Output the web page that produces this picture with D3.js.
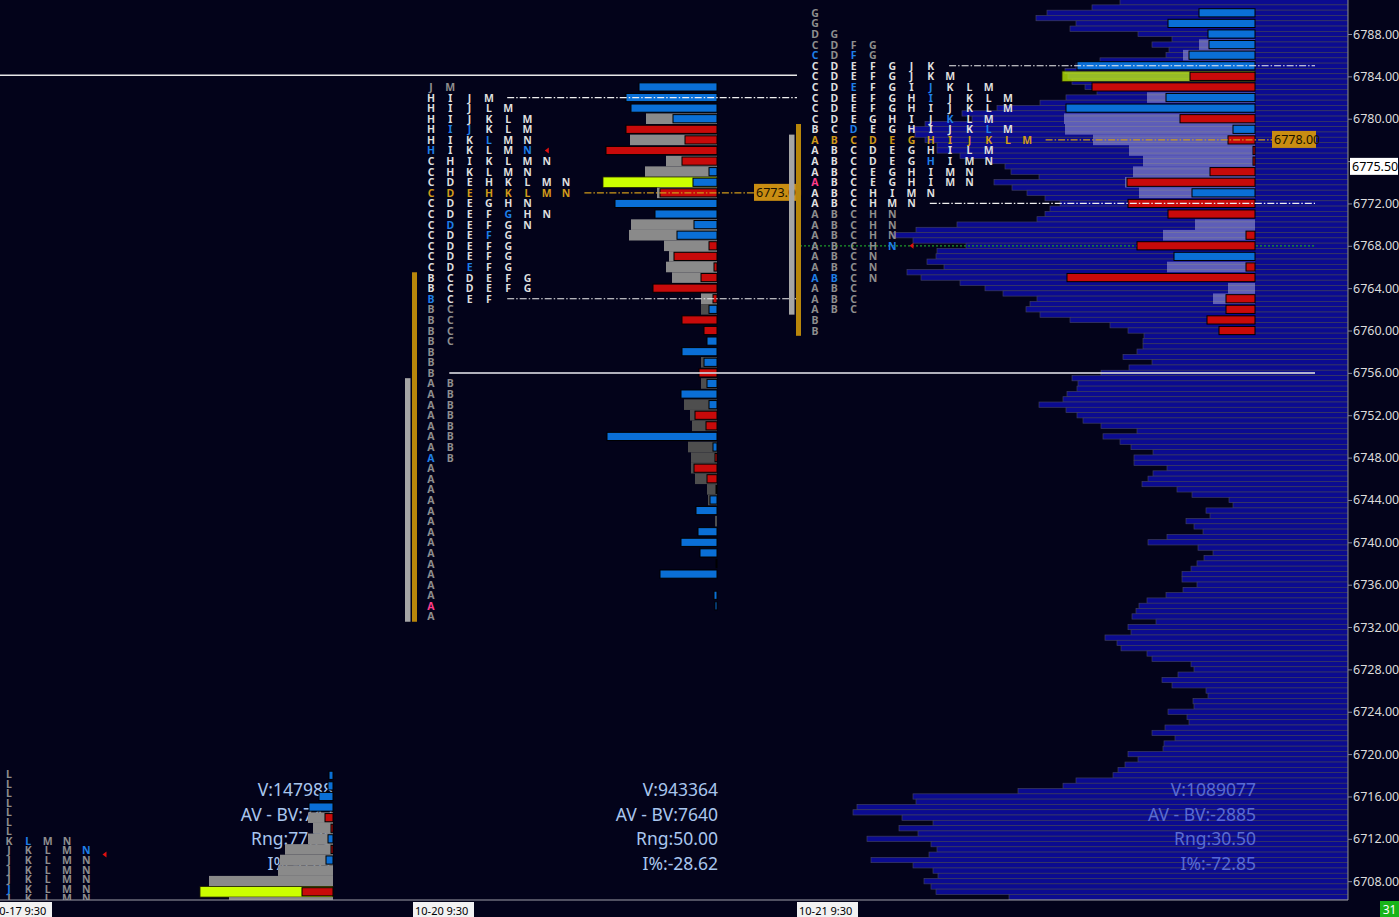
<!DOCTYPE html>
<html>
<head>
<meta charset="utf-8">
<script src="https://d3js.org/d3.v7.min.js"></script>
<style>
  body { margin: 0; background: #03031a; }
  text { font-family: "Noto Sans", "Open Sans", sans-serif; }
</style>
</head>
<body>
<div id="chart"></div>
<script>
// ---- data ----------------------------------------------------------------
const yTicks = [6788, 6784, 6780, 6776, 6772, 6768, 6764, 6760, 6756, 6752, 6748,
                6744, 6740, 6736, 6732, 6728, 6724, 6720, 6716, 6712, 6708];
const yTickLabels = yTicks.map(d => d.toFixed(2)).map((s, i) => yTicks[i] === 6776 ? "" : s);
const lastPrice = 6775.5;
const dayLabels = ["10-17  9:30", "10-20  9:30", "10-21  9:30"];

// TPO letters, one string per price row (top row first)
const d1Top = 6718.1, d1Step = 0.9;
const d1Tpo = ["L", "L", "L", "L", "L", "L", "L", "KLMN", "JKLMN", "JKLMN", "JKLMN", "JKLMN", "JKLMN", "JKLMN"];
const d1Blue = [[7, 1], [8, 4], [12, 0]];

const d2Top = 6783;
const d2Tpo = ["JM", "HIJM", "HIJLM", "HIJKLM", "HIJKLM", "HIKLMN", "HIKLMN", "CHIKLMN", "CHKLMN",
  "CDEHKLMN", "CDEHKLMN", "CDEGHN", "CDEFGHN", "CDEFGN", "CDEFG", "CDEFG", "CDEFG", "CDEFG",
  "BCDEFG", "BCDEFG", "BCEF", "BC", "BC", "BC", "BC", "B", "B", "B",
  "AB", "AB", "AB", "AB", "AB", "AB", "AB", "AB",
  "A", "A", "A", "A", "A", "A", "A", "A", "A", "A", "A", "A", "A", "A", "A"];
const d2Blue = [[6779, 1], [6779, 2], [6778, 3], [6777, 0], [6777, 5], [6771, 4], [6770, 1],
  [6769, 3], [6766, 2], [6763, 0], [6748, 0]];
const d2Pink = [[6734, 0]];

const d3Top = 6790;
const d3Tpo = ["G", "G", "DG", "CDFG", "CDFG", "CDEFGJK", "CDEFGJKM", "CDEFGIJKLM", "CDEFGHIJKLM",
  "CDEFGHIJKLM", "CDEGHIJKLM", "BCDEGHIJKLM", "ABCDEGHIJKLM", "ABCDEGHILM", "ABCDEGHIMN",
  "ABCEGHIMN", "ABCEGHIMN", "ABCHIMN", "ABCHMN", "ABCHN", "ABCHN", "ABCHN", "ABCHN",
  "ABCN", "ABCN", "ABCN", "ABC", "ABC", "ABC", "B", "B"];
const d3Blue = [[6786, 0], [6786, 2], [6783, 2], [6783, 6], [6782, 6], [6780, 7], [6779, 2],
  [6779, 9], [6776, 6], [6768, 4], [6765, 0], [6765, 1]];
const d3Pink = [[6774, 0]];

// value area / poc / last price marker per day
const d2Va = [6782, 6763], d2Poc = 6773, d2Last = 6777;
const d3Va = [6785, 6772], d3Poc = 6778, d3Last = 6768;
const d1LastRow = 8;
const d2Ib = [6765, 6733], d2A = [6755, 6733];
const d3Ib = [6779, 6760], d3A = [6778, 6762];

// volume at price (gray) and ask-bid delta (blue +, red -), 1 point rows
const d1BarTop = 6718;
const d1Vol   = [0, 0, 0, 0, 25, 20, 25, 48, 53, 55, 124, 133, 104];
const d1Delta = [4, 5, 14, 24, -8, -2, 5, -2, 7, 0, 0, -31, 0];

const d2Vol = [0, 0, 0, 71, 0, 87, 0, 51, 72, 114, 60, 0, 0, 86, 88, 53, 48, 51, 45, 0, 16,
  16, 0, 0, 0, 0, 16, 0, 16, 0, 33, 27, 25, 0, 29, 26, 26, 22, 10, 9, 0, 2, 0, 0, 0, 0, 0, 0, 0, 0, 0];
const d2Delta = [78, 91, 86, 44, -91, -32, -111, -35, 8, 24, -57, 102, 62, 23, 40, -8, -43, -3, -16, -64, -4,
  8, -35, -13, 10, 35, 13, -18, 10, 36, 8, -22, -11, 110, 4, -2, -23, -10, 1, 7, 21, 0, 19, 36, 17, -1, 57, 0, 3, 2, 0];

const d3Vol = [0, 0, 0, 56, 72, 0, 193, 0, 108, 0, 191, 190, 162, 126, 112, 122, 130, 116, 0, 0,
  60, 92, 0, 0, 88, 0, 27, 42, 0, 0, 0];
const d3Delta = [56, 87, 47, 46, 66, 178, -65, -163, 89, 189, -75, 22, -27, -2, -2, -45, -128, 63, -127, -87,
  0, -9, -118, 81, -9, -188, 0, -29, -29, -48, -36];

// composite volume profile, 0.5 point rows from the top
const compTop = 6791;
const compVol = [228, 256, 301, 312, 272, 278, 210, 176, 196, 179, 182, 248, 272, 283, 280, 276, 263, 251,
  282, 308, 351, 386, 376, 423, 438, 433, 423, 411, 411, 388, 358, 343, 337, 309, 354, 336, 321, 303,
  288, 298, 303, 311, 391, 432, 455, 435, 382, 411, 412, 421, 404, 441, 427, 388, 363, 345, 311, 318,
  322, 308, 278, 238,
  220, 204, 205, 205, 211, 225, 196, 219, 247, 276, 270, 271, 281, 285, 309, 282, 271, 265, 247, 211,
  245, 228, 217, 195, 214, 214, 181, 195, 200, 206, 171, 156, 119, 115, 142, 138, 162, 154, 145, 181,
  200, 150, 135, 144, 151, 157, 166, 166, 151, 165, 182, 201, 209, 212, 216, 192, 220, 217, 243, 231,
  227, 201, 196, 157, 154, 170, 186, 176, 142, 140, 155, 154, 180, 161, 159, 183, 196, 173, 184, 185,
  220, 210, 223, 230, 235, 272, 285, 330, 435, 432, 491, 495, 446, 415, 449, 430, 481, 417, 411, 419,
  477, 435, 415, 410, 424, 417, 412, 339];

const d1Stats = ["V:147988", "AV - BV:742", "Rng:77.75", "I%:-6.41"];
const d2Stats = ["V:943364", "AV - BV:7640", "Rng:50.00", "I%:-28.62"];
const d3Stats = ["V:1089077", "AV - BV:-2885", "Rng:30.50", "I%:-72.85"];

// ---- layout ----------------------------------------------------------------
const W = 1399, H = 917, plotR = 1348, plotB = 900;
const colW = 19.3;
const dayX = [-9, 413, 797];
const barRight = [333, 717, 1255];
const lineEnd = [797, 797, 1315];

const C = {
  bg: "#03031a", bright: "#dedede", dim: "#8e8e8e", blue: "#1f7fe8", orange: "#d09a1a",
  pink: "#ff3d8b", ask: "#0a6fd6", bid: "#c80a0a", poc: "#ccff00", gold: "#b8860b"
};

const y = d3.scaleLinear().domain([6708, 6788]).range([881.2, 34]);
const rowH = y(6787) - y(6788);
const vx = d3.scaleLinear().domain([0, 100]).range([0, 100]);

const svg = d3.select("#chart").append("svg").attr("width", W).attr("height", H)
  .style("display", "block");
svg.append("rect").attr("width", W).attr("height", H).attr("fill", C.bg);
svg.append("defs").append("clipPath").attr("id", "plot")
  .append("rect").attr("width", plotR).attr("height", plotB);
const plot = svg.append("g").attr("clip-path", "url(#plot)");

// composite profile
plot.append("g").selectAll("rect").data(compVol).join("rect")
  .attr("x", d => plotR - vx(d))
  .attr("y", (d, i) => y(compTop - i * 0.5) - rowH / 4)
  .attr("width", d => vx(d))
  .attr("height", rowH / 2)
  .attr("fill", "#0b0b90").attr("stroke", "#3e3e62").attr("stroke-width", 0.7);

// reference line
plot.append("line").attr("x1", 0).attr("x2", lineEnd[0])
  .attr("y1", y(6784.1)).attr("y2", y(6784.1))
  .attr("stroke", "#e8e8e8").attr("stroke-width", 1.5);

function stats(lines, right, color) {
  plot.append("g").selectAll("text").data(lines).join("text")
    .attr("x", right).attr("y", (d, i) => 789 + i * 24.5)
    .attr("text-anchor", "end").attr("dominant-baseline", "central")
    .attr("font-size", 17.5).attr("fill", color).text(d => d);
}

function bars(top, vol, delta, right, grayIn, grayOut, grayOpacity, pocOpacity, va) {
  const g = plot.append("g");
  const iMax = d3.maxIndex(vol);
  const rows = vol.map((d, i) => ({ d, p: top - i, poc: i === iMax })).filter(o => o.d > 0);
  g.selectAll("rect.vol").data(rows).join("rect").attr("class", "vol")
    .attr("x", o => right - vx(o.d)).attr("y", o => y(o.p) - rowH / 2)
    .attr("width", o => vx(o.d)).attr("height", rowH)
    .attr("fill", o => o.poc ? C.poc : (!va || (o.p <= va[0] && o.p >= va[1]) ? grayIn : grayOut))
    .attr("fill-opacity", o => o.poc ? pocOpacity : grayOpacity)
    .attr("stroke", o => o.poc ? "#202000" : "none").attr("stroke-width", 0.8);
  g.selectAll("rect.delta").data(delta.map((d, i) => ({ d, p: top - i })).filter(o => o.d !== 0))
    .join("rect").attr("class", "delta")
    .attr("x", o => right - vx(Math.abs(o.d)))
    .attr("y", o => y(o.p) - rowH / 2 + 1.2)
    .attr("width", o => vx(Math.abs(o.d)))
    .attr("height", rowH - 2.4)
    .attr("fill", o => o.d > 0 ? C.ask : C.bid)
    .attr("stroke", "#000").attr("stroke-width", 1);
}

function tpo(rows, rowY, x0, isBright, colorAt) {
  const g = plot.append("g").attr("font-size", 10.5).attr("font-weight", "bold")
    .attr("text-anchor", "middle").attr("dominant-baseline", "central");
  rows.forEach((s, r) => {
    g.selectAll(null).data(s.split("")).join("text")
      .attr("x", (d, c) => x0 + 18 + c * colW)
      .attr("y", rowY(r))
      .attr("fill", (d, c) => colorAt(r, c) || (isBright(r) ? C.bright : C.dim))
      .text(d => d);
  });
}

function marker(x, yy) {
  plot.append("path").attr("d", `M${x - 3},${yy} L${x + 1},${yy - 3} L${x + 1},${yy + 3}Z`)
    .attr("fill", "#e01010");
}

function vaLine(p, x1, x2, color, dash) {
  plot.append("line").attr("x1", x1).attr("x2", x2).attr("y1", y(p)).attr("y2", y(p))
    .attr("stroke", color).attr("stroke-width", 1.2).attr("stroke-dasharray", dash);
}

function ibBars(x0, ib, a) {
  plot.append("rect").attr("x", x0 - 8).attr("width", 5.5)
    .attr("y", y(a[0] + 0.5)).attr("height", y(a[1] - 0.5) - y(a[0] + 0.5)).attr("fill", "#a6a6a6");
  plot.append("rect").attr("x", x0 - 1).attr("width", 5)
    .attr("y", y(ib[0] + 0.5)).attr("height", y(ib[1] - 0.5) - y(ib[0] + 0.5)).attr("fill", C.gold);
}

function pocLabel(p, x, text) {
  const g = plot.append("g");
  g.append("rect").attr("x", x).attr("y", y(p) - 9).attr("width", 44).attr("height", 17)
    .attr("fill", "#c98d12");
  g.append("text").attr("x", x + 2).attr("y", y(p)).attr("dominant-baseline", "central")
    .attr("font-size", 12.5).attr("fill", "#1a1200").text(text);
}

function colorFrom(top, blue, pink, poc) {
  return (r, c) => {
    const p = top - r;
    if (pink.some(b => b[0] === p && b[1] === c)) return C.pink;
    if (blue.some(b => b[0] === p && b[1] === c)) return C.blue;
    if (p === poc) return C.orange;
    return null;
  };
}

const dash = "7,2,1.5,2";

// ---- day 1 (partial) ----
stats(d1Stats, barRight[0], "#a9c6ee");
bars(d1BarTop, d1Vol, d1Delta, barRight[0], "#8a8a8a", "#8a8a8a", 1, 1, null);
tpo(d1Tpo, r => y(d1Top - r * d1Step), dayX[0], () => false,
  (r, c) => d1Blue.some(b => b[0] === r && b[1] === c) ? C.blue : null);
marker(dayX[0] + 18 + d1Tpo[d1LastRow].length * colW, y(d1Top - d1LastRow * d1Step) + 4);

// ---- day 2 ----
stats(d2Stats, barRight[1] + 1, "#a9c6ee");
ibBars(dayX[1], d2Ib, d2A);
bars(d2Top, d2Vol, d2Delta, barRight[1], "#8a8a8a", "#4e4e4e", 1, 1, d2Va);
tpo(d2Tpo, r => y(d2Top - r), dayX[1], r => d2Top - r <= d2Va[0] && d2Top - r >= d2Va[1],
  colorFrom(d2Top, d2Blue, d2Pink, d2Poc));
const d2Col = p => dayX[1] + 18 + d2Tpo[d2Top - p].length * colW - 1;
vaLine(d2Va[0], d2Col(d2Va[0]), lineEnd[1], "#f0f0f0", dash);
vaLine(d2Va[1], d2Col(d2Va[1]), lineEnd[1], "#f0f0f0", dash);
vaLine(d2Poc, d2Col(d2Poc), 754, C.orange, dash);
pocLabel(d2Poc, 754, d2Poc.toFixed(2));
marker(d2Col(d2Last) + 2, y(d2Last));

// ---- day 3 ----
stats(d3Stats, barRight[2] + 1, "#5a6bd2");
const d3Col = p => dayX[2] + 18 + d3Tpo[d3Top - p].length * colW - 1;
plot.append("line").attr("x1", dayX[2] + 3).attr("x2", lineEnd[2])
  .attr("y1", y(d3Last)).attr("y2", y(d3Last))
  .attr("stroke", "#1e9a2a").attr("stroke-width", 1.3).attr("stroke-dasharray", "2,2");
ibBars(dayX[2], d3Ib, d3A);
bars(d3Top, d3Vol, d3Delta, barRight[2], "#aaaadc", "#aaaadc", 0.52, 0.72, null);
tpo(d3Tpo, r => y(d3Top - r), dayX[2], r => d3Top - r <= d3Va[0] && d3Top - r >= d3Va[1],
  colorFrom(d3Top, d3Blue, d3Pink, d3Poc));
vaLine(d3Va[0], d3Col(d3Va[0]), lineEnd[2], "#f0f0f0", dash);
vaLine(d3Va[1], d3Col(d3Va[1]), lineEnd[2], "#f0f0f0", dash);
vaLine(d3Poc, d3Col(d3Poc), 1272, C.orange, dash);
pocLabel(d3Poc, 1272, d3Poc.toFixed(2));
marker(d3Col(d3Last) + 2, y(d3Last));

// line across days 2-3
plot.append("line").attr("x1", dayX[1] + 18 + colW - 1).attr("x2", lineEnd[2])
  .attr("y1", y(6756)).attr("y2", y(6756))
  .attr("stroke", "#d0d0d8").attr("stroke-opacity", 0.85).attr("stroke-width", 2);

// ---- axes ----
const ax = svg.append("g").attr("transform", `translate(${plotR},0)`)
  .call(d3.axisRight(y).tickValues(yTicks).tickFormat((d, i) => yTickLabels[i]).tickSize(4).tickPadding(1));
ax.select(".domain").attr("stroke", "#8a8a9a").attr("d", `M0,0V${plotB}`);
ax.selectAll(".tick line").attr("stroke", "#8a8a9a");
ax.selectAll(".tick text").attr("fill", "#dcdcdc").attr("font-size", 12.5)
  .attr("font-family", "Noto Sans, sans-serif");

const lp = svg.append("g").attr("transform", `translate(${plotR + 2},${y(lastPrice)})`);
lp.append("rect").attr("x", 0).attr("y", -8.5).attr("width", 48).attr("height", 17).attr("fill", "#fff");
lp.append("text").attr("x", 2).attr("dominant-baseline", "central").attr("font-size", 12.5)
  .attr("fill", "#000").text(lastPrice.toFixed(2));

svg.append("line").attr("x1", 0).attr("x2", plotR).attr("y1", plotB).attr("y2", plotB)
  .attr("stroke", "#a0a0a8").attr("stroke-width", 1.2);

const dl = svg.append("g").selectAll("g").data(dayLabels).join("g")
  .attr("transform", (d, i) => `translate(${dayX[i]},${plotB + 2})`);
dl.append("rect").attr("width", 61).attr("height", 15).attr("fill", "#f2f2f2");
dl.append("text").attr("x", 2).attr("y", 8).attr("dominant-baseline", "central")
  .attr("font-size", 11).attr("fill", "#000").text(d => d);

const gb = svg.append("g").attr("transform", `translate(1380,${plotB + 1})`);
gb.append("rect").attr("width", 19).attr("height", 16).attr("fill", "#18b418");
gb.append("text").attr("x", 9.5).attr("y", 8.5).attr("text-anchor", "middle")
  .attr("dominant-baseline", "central").attr("font-size", 12).attr("fill", "#fff").text("31");
</script>
</body>
</html>
